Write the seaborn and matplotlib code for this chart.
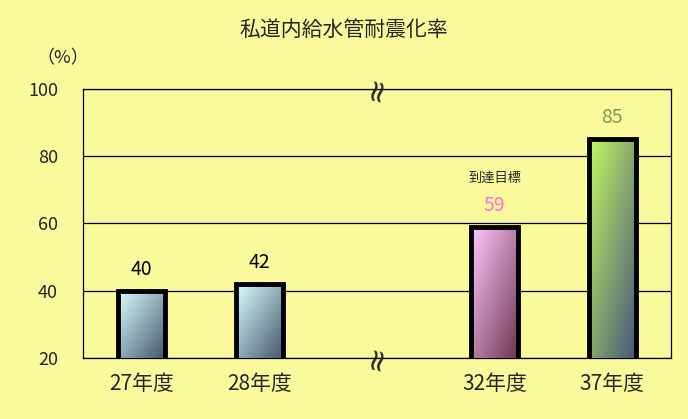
import numpy as np
import pandas as pd
import matplotlib
matplotlib.use("Agg")
import matplotlib.pyplot as plt
import matplotlib.transforms as mtransforms
from matplotlib.colors import to_rgb
import seaborn as sns

# data
years = ["27年度", "28年度", "32年度", "37年度"]
rates = [40, 42, 59, 85]
slot_order = ["27年度", "28年度", "", "32年度", "37年度"]
yticks = [20, 40, 60, 80, 100]
target_year = "32年度"
target_note = "到達目標"

# styles
bg = "#FAFA9C"
grad_colors = {
    "27年度": ("#DAFFFF", "#46566E"),
    "28年度": ("#DAFFFF", "#46566E"),
    "32年度": ("#FFC8FF", "#6E3650"),
    "37年度": ("#C4F862", "#46567A"),
}
label_colors = {"27年度": "black", "28年度": "black", "32年度": "#FF70CC", "37年度": "#7E9A50"}

sns.set_style("white")
plt.rcParams["font.family"] = ["Noto Sans CJK JP", "DejaVu Sans"]

df = pd.DataFrame({"year": years, "rate": rates})

fig = plt.figure(figsize=(6.88, 4.19), dpi=100, facecolor=bg)
ax = fig.add_axes([0.1206, 0.1456, 0.8547, 0.642])
ax.set_facecolor(bg)

sns.barplot(data=df, x="year", y="rate", order=slot_order, width=0.4,
            facecolor="none", edgecolor="black", linewidth=3.5, ax=ax, zorder=4)

ax.set_ylim(20, 100)
ax.set_yticks(yticks)
ax.set_xlim(-0.5, len(slot_order) - 0.5)
ax.yaxis.grid(True, color="black", linewidth=0.9)
ax.set_axisbelow(True)
for s in ax.spines.values():
    s.set_color("black")
    s.set_linewidth(0.9)

ax.set_xlabel("")
ax.set_ylabel("")
ax.tick_params(axis="y", length=0, pad=18, labelsize=13)
ax.set_xticks(range(len(slot_order)))
ax.set_xticklabels(slot_order, fontsize=15)
ax.tick_params(axis="x", length=0, pad=11)
# inner ticks at slot boundaries
ax.set_xticks(np.arange(0.5, len(slot_order) - 0.5, 1), minor=True)
ax.tick_params(axis="x", which="minor", direction="in", length=7, width=0.9, color="black")

# gradient fills
n = 64
u = np.linspace(0, 1, n)
uu, vv = np.meshgrid(u, u)
tt = (uu + vv) / 2  # top-left light -> bottom-right dark (origin upper)
ylo = ax.get_ylim()[0]
placed = [p for p in ax.patches if np.isfinite(p.get_height()) and p.get_height() > 0]
for p in placed:
    xc = p.get_x() + p.get_width() / 2
    name = slot_order[int(round(xc))]
    c1, c2 = np.array(to_rgb(grad_colors[name][0])), np.array(to_rgb(grad_colors[name][1]))
    img = c1[None, None, :] * (1 - tt[..., None]) + c2[None, None, :] * tt[..., None]
    top = p.get_y() + p.get_height()
    im = ax.imshow(img, extent=[p.get_x(), p.get_x() + p.get_width(), max(p.get_y(), ylo), top],
                   aspect="auto", origin="upper", zorder=3, interpolation="bilinear")
    im.set_clip_path(p)
    ax.text(xc, top + 3.3, f"{int(round(p.get_height()))}", ha="center", va="bottom",
            fontsize=14, color=label_colors[name], zorder=5)
    if name == target_year:
        ax.text(xc, top + 12.5, target_note, ha="center", va="bottom", fontsize=9.5, zorder=5)
ax.set_xlim(-0.5, len(slot_order) - 0.5)
ax.set_ylim(20, 100)

# axis break marks on the empty slot
gap = slot_order.index("")
trans = mtransforms.blended_transform_factory(ax.transData, ax.transAxes)
for yy in (0.0, 1.0):
    ax.text(gap, yy, "≈", transform=trans, rotation=78, ha="center", va="center",
            fontsize=22, family="DejaVu Sans", clip_on=False, zorder=6)

fig.text(0.5, 0.928, "私道内給水管耐震化率", ha="center", va="center", fontsize=15)
fig.text(0.092, 0.862, "（%）", ha="center", va="center", fontsize=13)

fig.savefig("out.png", dpi=100, facecolor=bg)
